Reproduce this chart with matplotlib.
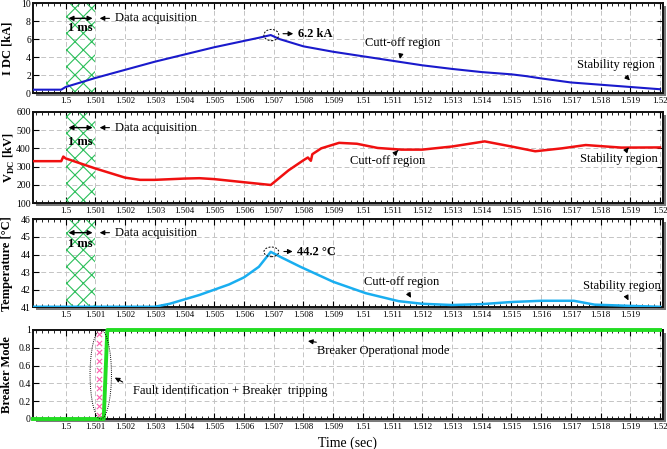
import matplotlib
matplotlib.use("Agg")
import matplotlib.pyplot as plt
from matplotlib.patches import Rectangle, Ellipse
from matplotlib.ticker import MultipleLocator, FixedLocator

plt.rcParams['font.family'] = ['Liberation Serif', 'DejaVu Serif']
plt.rcParams['mathtext.fontset'] = 'custom'
plt.rcParams['mathtext.rm'] = 'Liberation Serif'
plt.rcParams['mathtext.bf'] = 'Liberation Serif:bold'
plt.rcParams['hatch.linewidth'] = 0.8

# ---------------- data ----------------
t_i = [1.4989, 1.49985, 1.5, 1.5005, 1.501, 1.502, 1.503, 1.504, 1.505, 1.506,
       1.5065, 1.5069, 1.5072, 1.5076, 1.508, 1.5085, 1.509, 1.5095, 1.510,
       1.511, 1.512, 1.513, 1.514, 1.515, 1.5155, 1.516, 1.517, 1.518, 1.519, 1.52]
i_dc = [0.4, 0.4, 0.7, 1.2, 1.7, 2.6, 3.5, 4.3, 5.1, 5.8,
        6.15, 6.45, 6.0, 5.6, 5.2, 4.9, 4.6, 4.35, 4.1,
        3.6, 3.1, 2.7, 2.35, 2.1, 1.9, 1.65, 1.2, 0.95, 0.7, 0.45]

t_v = [1.4989, 1.49985, 1.49992, 1.5, 1.501, 1.502, 1.5025, 1.503, 1.504, 1.5045,
       1.505, 1.506, 1.5069, 1.5075, 1.508, 1.50815, 1.50825, 1.5083, 1.5086,
       1.5092, 1.5098, 1.5105, 1.5113, 1.512, 1.513, 1.5141, 1.515, 1.5158,
       1.5167, 1.5175, 1.5187, 1.52]
v_dc = [330, 330, 355, 345, 290, 240, 228, 228, 235, 237,
        232, 215, 200, 280, 335, 350, 332, 368, 400,
        430, 425, 402, 393, 393, 410, 438, 410, 384,
        400, 418, 404, 405]

t_T = [1.4989, 1.503, 1.5035, 1.504, 1.5045, 1.505, 1.5055, 1.506, 1.5065, 1.5069,
       1.5073, 1.5079, 1.509, 1.5101, 1.5112, 1.512, 1.513, 1.514, 1.515, 1.516,
       1.5171, 1.5178, 1.519, 1.52]
temp = [41.03, 41.03, 41.2, 41.45, 41.7, 42.0, 42.3, 42.7, 43.3, 44.15,
        43.8, 43.3, 42.45, 41.8, 41.35, 41.2, 41.13, 41.18, 41.3, 41.37,
        41.37, 41.15, 41.08, 41.03]

t_b = [1.4989, 1.50128, 1.5014, 1.52]
brk = [0, 0, 1, 1]

x_ticks = [1.5, 1.501, 1.502, 1.503, 1.504, 1.505, 1.506, 1.507, 1.508, 1.509,
           1.51, 1.511, 1.512, 1.513, 1.514, 1.515, 1.516, 1.517, 1.518, 1.519, 1.52]
x_labels = ['1.5', '1.501', '1.502', '1.503', '1.504', '1.505', '1.506', '1.507',
            '1.508', '1.509', '1.51', '1.511', '1.512', '1.513', '1.514', '1.515',
            '1.516', '1.517', '1.518', '1.519', '1.52']

acq_start, acq_end = 1.5, 1.501
xmin, xmax = 1.4989, 1.5201

# ---------------- figure ----------------
W, H = 667, 449
fig = plt.figure(figsize=(W / 100, H / 100), dpi=100)

def box(top, bottom):
    return [33 / W, 1 - bottom / H, 630 / W, (bottom - top) / H]

rects = [box(3, 93.3), box(111.7, 203.3), box(219.3, 307.3), box(330, 419)]
axes = [fig.add_axes(r) for r in rects]

for r in rects:
    fig.patches.append(Rectangle((r[0] + 3 / W, r[1] - 3 / H), r[2], r[3],
                                 transform=fig.transFigure, facecolor='#7a7a7a',
                                 edgecolor='none', zorder=-5))

ylims = [(0, 10), (100, 600), (41, 46), (0, 1)]
ysteps = [2, 100, 1, 0.2]
ylabels = ['I DC [kA]', r'V$_{\mathbf{DC}}$ [kV]', 'Temperature [°C]', 'Breaker Mode']
ylabel_x = [-0.031, -0.026, -0.031, -0.031]

for k, ax in enumerate(axes):
    ax.set_facecolor('white')
    ax.set_xlim(xmin, xmax)
    ax.set_ylim(*ylims[k])
    ax.yaxis.set_major_locator(MultipleLocator(ysteps[k]))
    ax.xaxis.set_major_locator(FixedLocator(x_ticks))
    labs = list(x_labels)
    if k == 2:
        labs[-1] = ''
    ax.set_xticklabels(labs)
    ax.xaxis.set_minor_locator(MultipleLocator(0.0002))
    ax.tick_params(which='both', direction='in', top=True, right=True)
    ax.tick_params(axis='x', labelsize=6.5, pad=3)
    ax.tick_params(axis='y', labelsize=7, pad=1.5)
    ax.tick_params(which='major', length=4, width=0.8)
    ax.tick_params(which='minor', length=2.5, width=0.6)
    ax.tick_params(axis='y', which='minor', left=False, right=False)
    ax.grid(True, which='major', color='#c4c4c4', linestyle=(0, (5, 3)), linewidth=0.7)
    for s in ax.spines.values():
        s.set_linewidth(1.4)
        s.set_color('#111111')
    ax.set_ylabel(ylabels[k], fontsize=9, fontweight='bold')
    ax.set_axisbelow(True)
    if k == 3:
        ax.yaxis.set_major_formatter(plt.FuncFormatter(lambda v, p: f'{v:g}'))
    ax.yaxis.set_label_coords(ylabel_x[k], 0.5)

ax1, ax2, ax3, ax4 = axes

# hatched data acquisition region
for ax in axes[:3]:
    ax.add_patch(Rectangle((acq_start, 0), acq_end - acq_start, 1,
                           transform=ax.get_xaxis_transform(),
                           facecolor='none', edgecolor='#2bbf5a', hatch='xx',
                           linewidth=0, zorder=1))

ax1.plot(t_i, i_dc, color='#1a1acc', linewidth=1.5, zorder=3)
ax2.plot(t_v, v_dc, color='#f01010', linewidth=1.8, zorder=3)
ax3.plot(t_T, temp, color='#19aef0', linewidth=1.8, zorder=3)
ax4.plot(t_b, brk, color='#22dd22', linewidth=2.8, zorder=5, clip_on=False)

arrow_k = dict(arrowstyle='-|>', color='black', lw=0.8, mutation_scale=7)
dbl_k = dict(arrowstyle='<|-|>', color='black', lw=1.0, mutation_scale=7)

def acq(ax, y_arrow, y_ms):
    ax.annotate('', xy=(acq_end, y_arrow), xytext=(acq_start, y_arrow),
                arrowprops=dbl_k, zorder=6)
    ax.text((acq_start + acq_end) / 2, y_ms, '1 ms', ha='center', va='center',
            fontsize=9, fontweight='bold', zorder=6)
    ax.annotate('Data acquisition', xy=(1.50105, y_arrow), xytext=(1.50166, y_arrow),
                ha='left', va='center', fontsize=9, arrowprops=arrow_k, zorder=6)

def note(ax, text, xy, xytext, **kw):
    ax.annotate(text, xy=xy, xytext=xytext, ha='center', va='center', fontsize=9,
                arrowprops=arrow_k, zorder=6, **kw)

# panel 1
acq(ax1, 8.3, 7.2)
ax1.add_patch(Ellipse((1.50692, 6.45), 0.0005, 1.25, facecolor='none',
                      edgecolor='black', linestyle=(0, (2, 1.5)), lw=0.7, zorder=6))
ax1.annotate('', xy=(1.50775, 6.6), xytext=(1.50722, 6.6), zorder=6,
             arrowprops=dict(arrowstyle='-|>', color='black', lw=0.8, mutation_scale=7))
ax1.text(1.50782, 6.6, '6.2 kA', ha='left', va='center', fontsize=9,
         fontweight='bold', zorder=6)
note(ax1, 'Cutt-off region', xy=(1.51123, 3.5), xytext=(1.51135, 5.6))
note(ax1, 'Stability region', xy=(1.51905, 1.2), xytext=(1.5185, 3.1))

# panel 2
acq(ax2, 513, 435)
note(ax2, 'Cutt-off region', xy=(1.51125, 400), xytext=(1.51083, 330))
note(ax2, 'Stability region', xy=(1.51895, 405), xytext=(1.5186, 340))

# panel 3
acq(ax3, 45.24, 44.6)
ax3.add_patch(Ellipse((1.50692, 44.15), 0.0005, 0.55, facecolor='none',
                      edgecolor='black', linestyle=(0, (2, 1.5)), lw=0.7, zorder=6))
ax3.annotate('', xy=(1.50773, 44.17), xytext=(1.50725, 44.17),
             arrowprops=dict(arrowstyle='-|>', color='black', lw=0.8, mutation_scale=7), zorder=6)
ax3.text(1.5078, 44.17, '44.2 °C', ha='left', va='center', fontsize=9,
         fontweight='bold', zorder=6)
note(ax3, 'Cutt-off region', xy=(1.51167, 41.4), xytext=(1.5113, 42.45))
note(ax3, 'Stability region', xy=(1.51898, 41.25), xytext=(1.5187, 42.2))

# panel 4
ax4.scatter([1.50113] * 10, [0.05 + 0.1 * n for n in range(10)], marker='x',
            s=14, color='#ff5fb0', linewidths=0.8, zorder=4)
ax4.add_patch(Ellipse((1.50118, 0.5), 0.00072, 1.0, facecolor='none',
                      edgecolor='black', linestyle=(0, (1, 1.2)), lw=0.7, zorder=6,
                      clip_on=False))
ax4.annotate('Breaker Operational mode', xy=(1.50806, 0.88), xytext=(1.50845, 0.76),
             ha='left', va='center', fontsize=9, arrowprops=arrow_k, zorder=6)
ax4.annotate('', xy=(1.50157, 0.48), xytext=(1.5020, 0.4),
             arrowprops=arrow_k, zorder=6)
ax4.text(1.50225, 0.31, 'Fault identification + Breaker  tripping', ha='left',
         va='center', fontsize=9, zorder=6)
ax4.set_xlabel('Time (sec)', fontsize=10, labelpad=4)

fig.savefig('out.png', dpi=100)
